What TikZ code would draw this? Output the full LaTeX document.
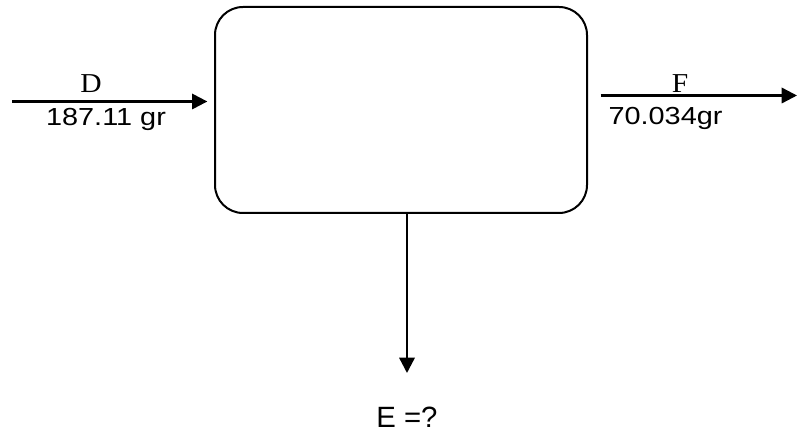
\documentclass[tikz,border=0pt]{standalone}
\usepackage{fontspec}
\setmainfont{Liberation Serif}
\setsansfont{Liberation Sans}
\usetikzlibrary{arrows.meta}
\tikzset{
  flow/.style={line width=1.8pt,-{Triangle[length=11.5pt,width=11.5pt]}},
  unitbox/.style={draw,line width=1.5pt,rounded corners=21pt,minimum width=279pt,minimum height=154.5pt,inner sep=0pt},
  lbl/.style={font=\fontsize{20.5}{22}\selectfont,inner sep=0pt,anchor=base,xscale=1.08,transform shape},
  qty/.style={font=\sffamily\fontsize{18.5}{21}\selectfont,inner sep=0pt,anchor=base,xscale=1.17,transform shape},
  ans/.style={font=\sffamily\fontsize{22}{24}\selectfont,inner sep=0pt,anchor=base}
}
\begin{document}
\begin{tikzpicture}[x=0.75pt,y=-0.75pt]
\useasboundingbox (0,0) rectangle (799,434);
\node[unitbox] (box) at (401,110) {};
\coordinate (din) at (12,101.5);
\coordinate (fout) at (797,95.5);
\coordinate (eout) at (407,373);
\draw[flow] (din) -- ([xshift=-5pt]box.west |- din);
\draw[flow] ([xshift=9.5pt]box.east |- fout) -- (fout);
\draw[flow] (box.south -| eout) -- (eout);
\node[lbl] (d) at (91,93) {D};
\node[qty] (dq) at (106,125.5) {187.11 gr};
\node[lbl] (f) at (680,93) {F};
\node[qty] (fq) at (665.5,124.3) {70.034gr};
\node[ans] (e) at (407,427) {E =?};
\end{tikzpicture}
\end{document}
